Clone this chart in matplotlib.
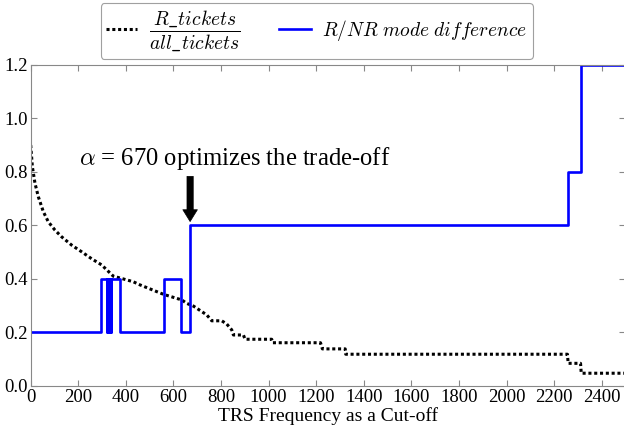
import matplotlib
matplotlib.use("Agg")
import matplotlib.pyplot as plt
import numpy as np

plt.rcParams['font.family'] = ['Liberation Serif', 'DejaVu Serif']
plt.rcParams['mathtext.fontset'] = 'cm'

# ratio curve R_tickets / all_tickets
ratio_x = [0, 7, 18, 32, 53, 74, 102, 130, 172, 214, 256, 298, 347, 431, 460,
           558, 635, 656, 684, 740, 761, 803, 824, 845, 852, 894, 901, 1013,
           1017, 1218, 1226, 1322, 1324, 2256, 2259, 2311, 2314, 2500]
ratio_y = [0.90, 0.819, 0.757, 0.707, 0.651, 0.613, 0.582, 0.557, 0.526, 0.501,
           0.475, 0.452, 0.41, 0.389, 0.377, 0.342, 0.321, 0.308, 0.298, 0.265,
           0.243, 0.243, 0.231, 0.209, 0.19, 0.19, 0.174, 0.174, 0.161, 0.161,
           0.138, 0.138, 0.118, 0.118, 0.084, 0.084, 0.047, 0.047]

# R/NR mode difference (step function, value holds from each x)
mode_x = [0, 296, 319, 321, 329, 331, 337, 339, 376, 560, 630, 670, 2257, 2311, 2500]
mode_y = [0.2, 0.4, 0.2, 0.4, 0.2, 0.4, 0.2, 0.4, 0.2, 0.4, 0.2, 0.6, 0.8, 1.2, 1.2]

x_ticks = list(range(0, 2401, 200))
y_ticks = [0.0, 0.2, 0.4, 0.6, 0.8, 1.0, 1.2]

fig = plt.figure(figsize=(6.24, 4.32), dpi=100)
W, H = 624, 432
ax = fig.add_axes([30.7 / W, (H - 385.8) / H, (625.5 - 30.7) / W, (385.8 - 64.8) / H])

ax.plot(ratio_x, ratio_y, color='black', lw=2.2, linestyle=(0, (1, 0.9)),
        label=r'$\dfrac{R\_tickets}{all\_tickets}$')
ax.plot(mode_x, mode_y, color='#0000ff', lw=1.9, drawstyle='steps-post',
        label=r'$R/NR\ mode\ difference$')

ax.set_xlim(0, 2500)
ax.set_ylim(0, 1.2)
ax.set_xticks(x_ticks)
ax.set_yticks(y_ticks)
ax.set_yticklabels([f'{v:.1f}' for v in y_ticks])
ax.tick_params(direction='in', top=True, right=True, length=4, color='#888888',
               labelsize=13.5, pad=2)
for s in ax.spines.values():
    s.set_color('#888888')
ax.set_xlabel('TRS Frequency as a Cut-off', fontsize=14, labelpad=1)

ax.annotate('', xy=(670, 0.614), xytext=(670, 0.783),
            arrowprops=dict(facecolor='black', edgecolor='black', width=4.5,
                            headwidth=10.5, headlength=8.5, shrink=0, lw=0.5))
ax.text(205, 0.85, r'$\alpha$ = 670 optimizes the trade-off', fontsize=17.7,
        va='center', ha='left')

top_frac = (385.8 - 3) / 321.0
leg = ax.legend(loc='upper center', bbox_to_anchor=(0.481, top_frac), ncol=2,
                fontsize=14, frameon=True, fancybox=True, edgecolor='#888888',
                handlelength=1.6, columnspacing=2.0, borderpad=0.3,
                handletextpad=0.6, borderaxespad=0)
leg.get_frame().set_linewidth(0.8)

fig.savefig('out.png', dpi=100)
